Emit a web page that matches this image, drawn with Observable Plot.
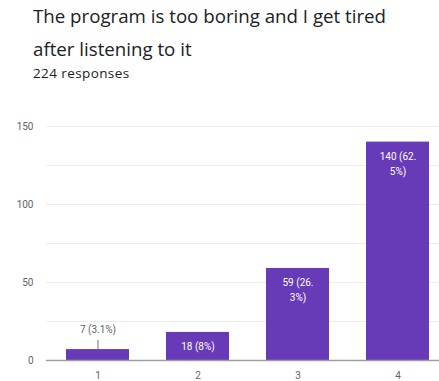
<!DOCTYPE html>
<html>
<head>
<meta charset="utf-8">
<script src="https://cdn.jsdelivr.net/npm/d3@7"></script>
<script src="https://cdn.jsdelivr.net/npm/@observablehq/plot@0.6"></script>
<style>
  html, body { margin: 0; padding: 0; background: #fff; width: 439px; height: 381px; overflow: hidden; }
  #head { position: relative; height: 100px; width: 439px; }
  #title { position: absolute; left: 33px; top: -1px; font-family: "Open Sans", sans-serif; font-size: 18.7px; line-height: 33px; color: #202124; width: 410px; white-space: nowrap; }
  #sub { position: absolute; left: 33px; top: 64px; font-family: "Open Sans", sans-serif; font-size: 13.5px; letter-spacing: 0.4px; color: #202124; }
  #chart svg { display: block; }
</style>
</head>
<body>
<div id="head">
  <div id="title">The program is too boring and I get tired<br>after listening to it</div>
  <div id="sub">224 responses</div>
</div>
<div id="chart"></div>
<script>
const categories = ["1", "2", "3", "4"];
const counts = [7, 18, 59, 140];
const labels = ["7 (3.1%)", "18 (8%)", "59 (26.\n3%)", "140 (62.\n5%)"];
const inside = [false, true, true, true];
const yTicks = [0, 50, 100, 150];
const gridTicks = [25, 50, 75, 100, 125, 150];

const data = categories.map((c, i) => ({cat: c, value: counts[i], label: labels[i], inside: inside[i]}));

const chart = Plot.plot({
  width: 439,
  height: 281,
  marginTop: 26,
  marginBottom: 21,
  marginLeft: 46,
  marginRight: -9,
  style: {fontFamily: "Roboto, sans-serif", fontSize: "10px", color: "#5f6368", background: "#fff"},
  x: {domain: categories, paddingInner: 0.37, paddingOuter: 0.19, label: null, tickSize: 0, tickPadding: 11},
  y: {domain: [0, 150], ticks: yTicks, label: null, tickSize: 0, tickPadding: 13},
  marks: [
    Plot.ruleY(gridTicks, {stroke: "#ececec", strokeWidth: 1}),
    Plot.barY(data, {x: "cat", y: "value", fill: "#673ab7"}),
    Plot.ruleY([0], {stroke: "#9e9e9e", strokeWidth: 1.5}),
    Plot.ruleX(data.filter(d => !d.inside), {x: "cat", y1: "value", y2: "value", insetTop: -9, stroke: "#757575", strokeWidth: 1}),
    Plot.text(data.filter(d => !d.inside), {x: "cat", y: "value", text: "label", dy: -20, fill: "#5f6368", fontSize: 10}),
    Plot.text(data.filter(d => d.inside), {x: "cat", y: "value", text: "label", lineAnchor: "top", dy: 7, lineHeight: 1.5, fill: "#ffffff", fontSize: 10})
  ]
});
document.getElementById("chart").appendChild(chart);
</script>
</body>
</html>
